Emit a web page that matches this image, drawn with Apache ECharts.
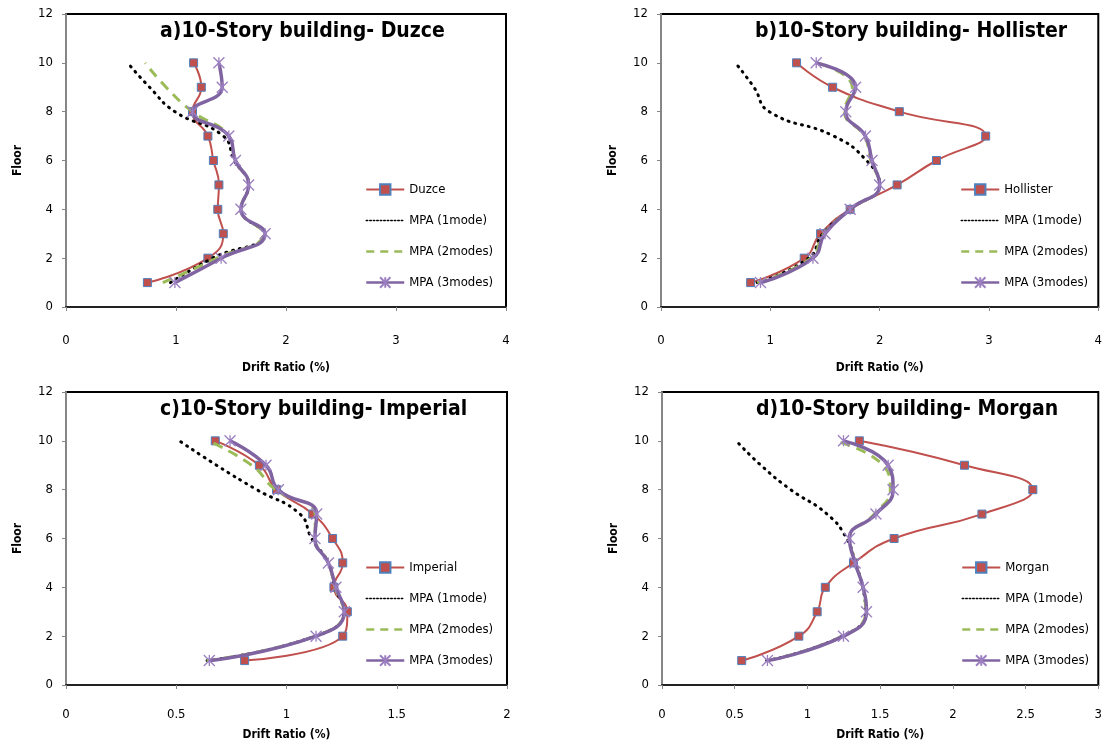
<!DOCTYPE html>
<html>
<head>
<meta charset="utf-8">
<script src="https://cdn.jsdelivr.net/npm/echarts@6/dist/echarts.min.js"></script>
<style>
  html, body { margin: 0; padding: 0; background: #ffffff; }
  #chart { width: 1105px; height: 746px; }
</style>
</head>
<body>
<div id="chart"></div>
<script>
// Storey levels (floor 1 .. floor 10)
const floors = [1, 2, 3, 4, 5, 6, 7, 8, 9, 10];
const floorTicks = [0, 2, 4, 6, 8, 10, 12];

// Peak inter-storey drift ratio (%) per floor, floor 1 first
// a) Duzce
const duzceRecord = [0.74, 1.29, 1.43, 1.38, 1.39, 1.34, 1.29, 1.15, 1.23, 1.16];
const duzceMpa1   = [0.95, 1.33, 1.80, 1.59, 1.66, 1.53, 1.43, 0.99, 0.76, 0.56];
const duzceMpa2   = [0.88, 1.37, 1.79, 1.59, 1.66, 1.54, 1.48, 1.15, 0.91, 0.72];
const duzceMpa3   = [0.99, 1.41, 1.81, 1.59, 1.66, 1.54, 1.48, 1.15, 1.42, 1.39];
// b) Hollister
const hollisterRecord = [0.82, 1.31, 1.46, 1.73, 2.16, 2.52, 2.97, 2.18, 1.57, 1.24];
const hollisterMpa1   = [0.88, 1.35, 1.48, 1.73, 2.00, 1.88, 1.58, 0.99, 0.85, 0.68];
const hollisterMpa2   = [0.88, 1.37, 1.49, 1.73, 2.00, 1.92, 1.86, 1.68, 1.75, 1.42];
const hollisterMpa3   = [0.91, 1.39, 1.50, 1.73, 2.00, 1.93, 1.87, 1.69, 1.78, 1.42];
// c) Imperial
const imperialRecord = [0.81, 1.255, 1.276, 1.215, 1.255, 1.209, 1.119, 0.955, 0.877, 0.677];
const imperialMpa1   = [0.64, 1.13, 1.26, 1.22, 1.19, 1.114, 1.061, 0.865, 0.683, 0.514];
const imperialMpa2   = [0.638, 1.13, 1.26, 1.22, 1.19, 1.13, 1.13, 0.95, 0.842, 0.645];
const imperialMpa3   = [0.65, 1.134, 1.262, 1.224, 1.19, 1.129, 1.137, 0.963, 0.907, 0.744];
// d) Morgan
const morganRecord = [0.548, 0.941, 1.067, 1.123, 1.317, 1.596, 2.20, 2.55, 2.08, 1.357];
const morganMpa1   = [0.72, 1.24, 1.40, 1.38, 1.33, 1.27, 1.135, 0.885, 0.68, 0.51];
const morganMpa2   = [0.72, 1.24, 1.40, 1.38, 1.33, 1.29, 1.46, 1.57, 1.52, 1.19];
const morganMpa3   = [0.725, 1.248, 1.406, 1.383, 1.328, 1.289, 1.471, 1.589, 1.555, 1.248];

// Drift-ratio axis ticks per panel
const driftTicksAB = [0, 1, 2, 3, 4];
const driftTicksC  = [0, 0.5, 1, 1.5, 2];
const driftTicksD  = [0, 0.5, 1, 1.5, 2, 2.5, 3];

const panelTitles = [
  'a)10-Story building- Duzce',
  'b)10-Story building- Hollister',
  'c)10-Story building- Imperial',
  'd)10-Story building- Morgan'
];
const recordNames = ['Duzce', 'Hollister', 'Imperial', 'Morgan'];
const mpaNames = ['MPA (1mode)', 'MPA (2modes)', 'MPA (3modes)'];

const panelData = [
  { rec: duzceRecord, m1: duzceMpa1, m2: duzceMpa2, m3: duzceMpa3, ticks: driftTicksAB },
  { rec: hollisterRecord, m1: hollisterMpa1, m2: hollisterMpa2, m3: hollisterMpa3, ticks: driftTicksAB },
  { rec: imperialRecord, m1: imperialMpa1, m2: imperialMpa2, m3: imperialMpa3, ticks: driftTicksC },
  { rec: morganRecord, m1: morganMpa1, m2: morganMpa2, m3: morganMpa3, ticks: driftTicksD }
];

// Plot-area rectangles (px) for the 2x2 layout, with axis-label spacing
const boxes = [
  { left: 66,  top: 14,  width: 440, height: 293, labelGap: 27, nameGap: 55 },
  { left: 661, top: 14,  width: 441, height: 293, labelGap: 27, nameGap: 55 },
  { left: 66,  top: 392, width: 441, height: 293, labelGap: 23, nameGap: 44 },
  { left: 662, top: 392, width: 440, height: 293, labelGap: 23, nameGap: 44 }
];

const FONT = '"Liberation Sans Narrow", "DejaVu Sans Condensed", "Open Sans", sans-serif';
const RED = '#C0504D', BLUE = '#4F81BD', GREEN = '#9BBB59', PURPLE = '#8064A2';
const STAR = 'path://M0,0L10,10M10,0L0,10M5,0L5,10';

const pairs = (xs) => xs.map((x, i) => [x, floors[i]]);

const option = {
  animation: false,
  backgroundColor: '#ffffff',
  textStyle: { fontFamily: FONT },
  title: [], legend: [], grid: [], xAxis: [], yAxis: [], series: []
};

panelData.forEach((p, k) => {
  const b = boxes[k];
  const step = p.ticks[1] - p.ticks[0];
  option.grid.push({
    left: b.left, top: b.top, width: b.width, height: b.height,
    show: true, borderColor: '#000', borderWidth: 2, backgroundColor: '#fff',
    containLabel: false
  });
  option.title.push({
    text: panelTitles[k],
    left: b.left + 94, top: b.top + 7, padding: 0,
    textStyle: { fontFamily: FONT, fontSize: 21, fontWeight: 'bold', color: '#000' }
  });
  option.legend.push({
    orient: 'vertical',
    left: b.left + 294, top: b.top + 164,
    itemWidth: 38, itemHeight: 13, itemGap: 18,
    selectedMode: false,
    textStyle: { fontFamily: FONT, fontSize: 13, color: '#000' },
    data: [
      { name: recordNames[k], lineStyle: { width: 2 } },
      { name: mpaNames[0], itemStyle: { opacity: 0 }, lineStyle: { width: 1.5, type: [1.5, 2] } },
      { name: mpaNames[1], itemStyle: { opacity: 0 }, lineStyle: { width: 2.5, type: [8, 6] } },
      { name: mpaNames[2], lineStyle: { width: 2.5 } }
    ]
  });
  option.xAxis.push({
    type: 'value', gridIndex: k,
    min: p.ticks[0], max: p.ticks[p.ticks.length - 1], interval: step,
    name: 'Drift Ratio (%)', nameLocation: 'middle', nameGap: b.nameGap,
    nameTextStyle: { fontFamily: FONT, fontSize: 12, fontWeight: 'bold', color: '#000' },
    axisLine: { onZero: false, lineStyle: { color: '#222', width: 2 } },
    axisTick: { show: true, inside: false, length: 4, lineStyle: { color: '#868686' } },
    axisLabel: { margin: b.labelGap, fontSize: 13, color: '#000', fontFamily: FONT },
    splitLine: { show: false }
  });
  option.yAxis.push({
    type: 'value', gridIndex: k,
    min: floorTicks[0], max: floorTicks[floorTicks.length - 1], interval: floorTicks[1] - floorTicks[0],
    name: 'Floor', nameLocation: 'middle', nameGap: 42,
    nameTextStyle: { fontFamily: FONT, fontSize: 12, fontWeight: 'bold', color: '#000' },
    axisLine: { onZero: false, lineStyle: { color: '#868686', width: 2 } },
    axisTick: { show: true, inside: false, length: 4, lineStyle: { color: '#868686' } },
    axisLabel: { margin: 13, fontSize: 13, color: '#000', fontFamily: FONT },
    splitLine: { show: false }
  });
  option.series.push(
    {
      name: recordNames[k], type: 'line', xAxisIndex: k, yAxisIndex: k,
      data: pairs(p.rec), smooth: 0.5,
      lineStyle: { color: RED, width: 2 },
      symbol: 'rect', symbolSize: 8,
      itemStyle: { color: RED, borderColor: BLUE, borderWidth: 1 },
      z: 2
    },
    {
      name: mpaNames[0], type: 'line', xAxisIndex: k, yAxisIndex: k,
      data: pairs(p.m1), smooth: 0.5, showSymbol: false, symbol: 'none',
      lineStyle: { color: '#000', width: 3, type: [1, 6], cap: 'round' },
      itemStyle: { color: '#000' },
      z: 3
    },
    {
      name: mpaNames[1], type: 'line', xAxisIndex: k, yAxisIndex: k,
      data: pairs(p.m2), smooth: 0.5, showSymbol: false, symbol: 'none',
      lineStyle: { color: GREEN, width: 3, type: [10, 7] },
      itemStyle: { color: GREEN },
      z: 4
    },
    {
      name: mpaNames[2], type: 'line', xAxisIndex: k, yAxisIndex: k,
      data: pairs(p.m3), smooth: 0.5,
      lineStyle: { color: PURPLE, width: 3.5 },
      symbol: STAR, symbolSize: [11, 11],
      itemStyle: { color: PURPLE, borderColor: '#9B7FC0', borderWidth: 1.3 },
      z: 5
    }
  );
});

const chart = echarts.init(document.getElementById('chart'), null, { renderer: 'canvas' });
chart.setOption(option);
</script>
</body>
</html>
